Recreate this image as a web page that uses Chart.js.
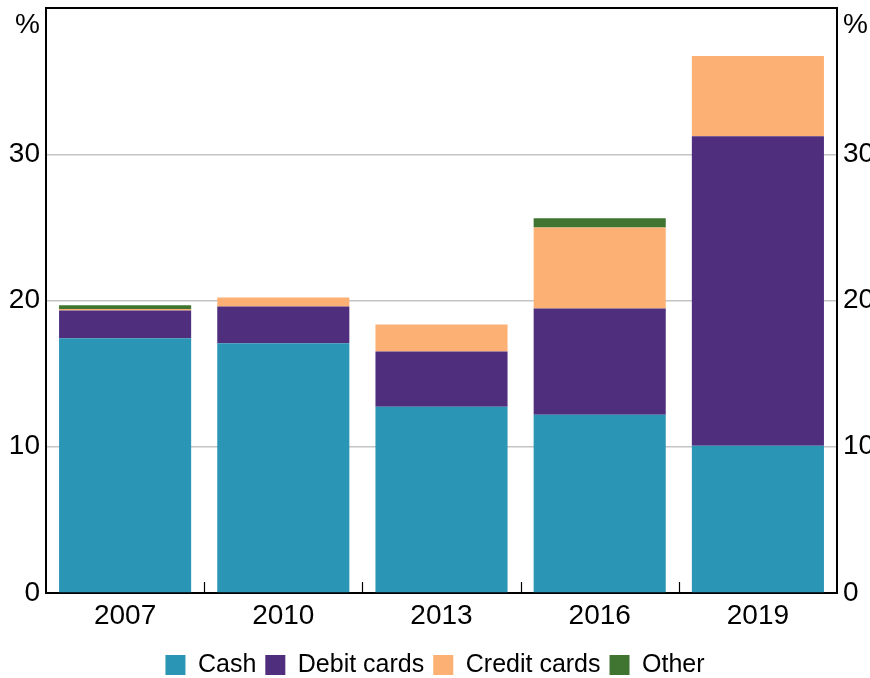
<!DOCTYPE html>
<html>
<head>
<meta charset="utf-8">
<script src="https://cdn.jsdelivr.net/npm/chart.js@4/dist/chart.umd.min.js"></script>
<style>
html,body{margin:0;padding:0;background:#fff;overflow:hidden;}
#wrap{width:870px;height:678px;position:relative;}
</style>
</head>
<body>
<div id="wrap"><canvas id="c" width="870" height="678"></canvas></div>
<script>
const years = ['2007', '2010', '2013', '2016', '2019'];
const cash = [17.42, 17.08, 12.74, 12.19, 10.07];
const debitCards = [1.90, 2.51, 3.77, 7.26, 21.16];
const creditCards = [0.10, 0.62, 1.85, 5.55, 5.48];
const other = [0.26, 0, 0, 0.62, 0];
const yTicks = [0, 10, 20, 30, 40];
const unitLabel = '%';

const FONT = "'Liberation Sans', Arial, sans-serif";
Chart.defaults.font.family = FONT;
Chart.defaults.color = '#000';

const framePlugin = {
  id: 'frame',
  afterDraw(chart) {
    const {ctx, chartArea: a, scales} = chart;
    ctx.save();
    ctx.strokeStyle = '#000';
    ctx.lineWidth = 2;
    ctx.beginPath();
    ctx.moveTo(a.left - 1, a.top);
    ctx.lineTo(a.right + 1, a.top);
    ctx.stroke();
    const x = scales.x;
    ctx.lineWidth = 1.2;
    for (let i = 0; i < years.length - 1; i++) {
      const px = Math.round((x.getPixelForValue(i) + x.getPixelForValue(i + 1)) / 2) + 0.5;
      ctx.beginPath();
      ctx.moveTo(px, a.bottom);
      ctx.lineTo(px, a.bottom - 11);
      ctx.stroke();
    }
    ctx.fillStyle = '#000';
    ctx.font = '28px ' + FONT;
    ctx.textBaseline = 'middle';
    ctx.textAlign = 'right';
    ctx.fillText(unitLabel, a.left - 6, a.top + 17);
    ctx.textAlign = 'left';
    ctx.fillText(unitLabel, a.right + 6, a.top + 17);
    ctx.restore();
  }
};

const tickCb = v => (v === 40 ? '' : v);
const fitY = w => s => { s.width = w; s.paddingTop = 0; s.paddingBottom = 0; };

new Chart(document.getElementById('c'), {
  type: 'bar',
  data: {
    labels: years,
    datasets: [
      {label: 'Cash', data: cash, backgroundColor: '#2a95b4'},
      {label: 'Debit cards', data: debitCards, backgroundColor: '#502e7e'},
      {label: 'Credit cards', data: creditCards, backgroundColor: '#fdb073'},
      {label: 'Other', data: other, backgroundColor: '#3f7531'}
    ]
  },
  options: {
    responsive: false,
    animation: false,
    layout: {padding: {top: 8, bottom: -9.5, left: 0, right: 0}},
    datasets: {bar: {barPercentage: 0.835, categoryPercentage: 1.0, borderWidth: 0}},
    plugins: {
      legend: {
        position: 'bottom',
        labels: {boxWidth: 20, boxHeight: 20, padding: 9, font: {size: 25}, color: '#000'}
      },
      tooltip: {enabled: false}
    },
    scales: {
      x: {
        stacked: true,
        afterFit: s => { s.height = 50.5; s.paddingLeft = 0; s.paddingRight = 0; },
        grid: {display: false, drawTicks: false},
        border: {display: true, color: '#000', width: 2},
        ticks: {font: {size: 28}, color: '#000', padding: 6, maxRotation: 0}
      },
      y: {
        stacked: true,
        position: 'left',
        min: 0, max: 40,
        afterBuildTicks: s => { s.ticks = yTicks.map(v => ({value: v})); },
        afterFit: fitY(46),
        grid: {color: '#c4c4c4', lineWidth: 1.5, drawTicks: false},
        border: {display: true, color: '#000', width: 2},
        ticks: {font: {size: 28}, color: '#000', padding: 6, callback: tickCb}
      },
      y2: {
        position: 'right',
        min: 0, max: 40,
        afterBuildTicks: s => { s.ticks = yTicks.map(v => ({value: v})); },
        afterFit: fitY(33),
        grid: {display: false, drawTicks: false},
        border: {display: true, color: '#000', width: 2},
        ticks: {font: {size: 28}, color: '#000', padding: 6, callback: tickCb}
      }
    }
  },
  plugins: [framePlugin]
});
</script>
</body>
</html>
